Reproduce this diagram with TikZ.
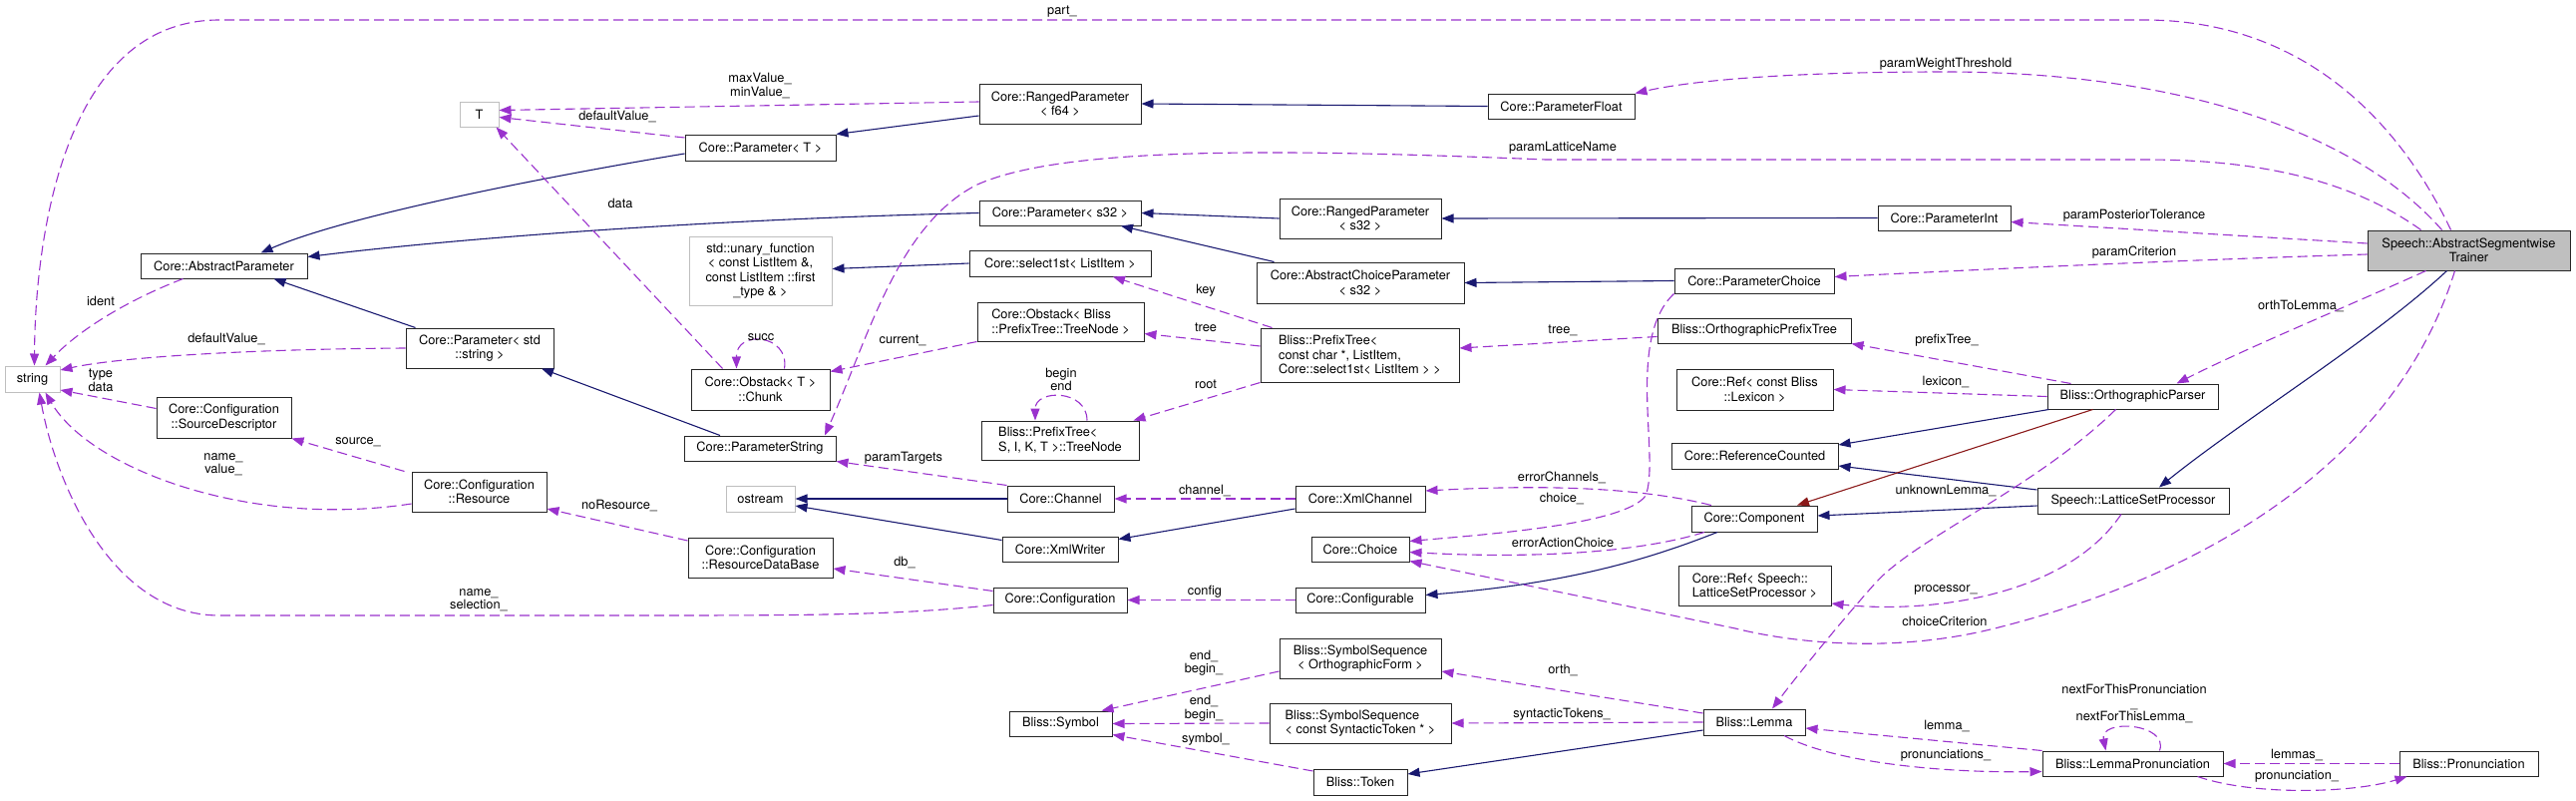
\documentclass[tikz,border=0pt]{standalone}
\usepackage{fontspec}
\setmainfont{TeX Gyre Heros}
\usetikzlibrary{arrows.meta}
\definecolor{edgeblue}{HTML}{191970}
\definecolor{edgepurple}{HTML}{9A32CD}
\definecolor{edgered}{HTML}{8B1A1A}
\definecolor{boxgray}{HTML}{BFBFBF}
\tikzset{
  cls/.style={draw=black!85, line width=1pt, fill=white, inner sep=0pt, align=center, font=\fontsize{12.8}{14.5}\selectfont},
  undoc/.style={cls, draw=boxgray},
  inh/.style={draw=edgeblue, line width=1.1pt, -{Triangle[length=12pt,width=9pt]}},
  inhprot/.style={inh, draw=edgered},
  usage/.style={draw=edgepurple, line width=1.1pt, dash pattern=on 10pt off 5pt, -{Triangle[length=12pt,width=9pt]}},
  lbl/.style={inner sep=0pt, align=center, font=\fontsize{12.8}{13.5}\selectfont},
}

\begin{document}
\begin{tikzpicture}[x=1pt,y=-1pt]
\useasboundingbox (0,0) rectangle (2583,803);

% classes
\node[cls, fill=boxgray, minimum width=203pt, minimum height=40pt] (trainer) at (2475.5,251) {Speech::AbstractSegmentwise\\Trainer};
\node[undoc, minimum width=55pt, minimum height=26pt] (string) at (32.5,380) {string};
\node[undoc, minimum width=39pt, minimum height=25pt] (tmpl) at (480.5,114.5) {T};
\node[cls, minimum width=167pt, minimum height=25pt] (absparam) at (224.5,266.5) {Core::AbstractParameter};
\node[cls, minimum width=148pt, minimum height=40pt] (paramstd) at (481,349) {Core::Parameter< std\\::string >};
\node[cls, minimum width=135pt, minimum height=41pt] (srcdesc) at (224.5,418.5) {Core::Configuration\\::SourceDescriptor};
\node[cls, minimum width=135pt, minimum height=40pt] (resource) at (480.5,493) {Core::Configuration\\::Resource};
\node[cls, minimum width=162pt, minimum height=40pt] (rangedf64) at (1063,104) {Core::RangedParameter\\< f64 >};
\node[cls, minimum width=151pt, minimum height=26pt] (paramT) at (762.5,148) {Core::Parameter< T >};
\node[cls, minimum width=162pt, minimum height=25pt] (params32) at (1063,213.5) {Core::Parameter< s32 >};
\node[undoc, minimum width=143pt, minimum height=69pt] (unary) at (762.5,271.5) {std::unary\_function\\< const ListItem \&,\\const ListItem ::first\\\_type \& >};
\node[cls, minimum width=182pt, minimum height=26pt] (select1st) at (1063,264) {Core::select1st< ListItem >};
\node[cls, align=left, minimum width=167pt, minimum height=39pt] (obstacktree) at (1063.5,322.5) {Core::Obstack< Bliss\\::PrefixTree::TreeNode >};
\node[cls, minimum width=139pt, minimum height=41pt] (chunk) at (762.5,390.5) {Core::Obstack< T >\\::Chunk};
\node[cls, minimum width=208pt, minimum height=41pt] (abschoice) at (1364,283.5) {Core::AbstractChoiceParameter\\< s32 >};
\node[cls, minimum width=162pt, minimum height=40pt] (rangeds32) at (1364,219) {Core::RangedParameter\\< s32 >};
\node[cls, align=left, minimum width=199pt, minimum height=54pt] (prefixtree) at (1363.5,356) {Bliss::PrefixTree<\\const char *, ListItem,\\Core::select1st< ListItem > >};
\node[cls, align=left, minimum width=158pt, minimum height=39pt] (treenode) at (1063,441.5) {Bliss::PrefixTree<\\S, I, K, T >::TreeNode};
\node[cls, minimum width=147pt, minimum height=25pt] (paramfloat) at (1565.5,106.5) {Core::ParameterFloat};
\node[cls, minimum width=133pt, minimum height=25pt] (paramint) at (1949.5,218.5) {Core::ParameterInt};
\node[cls, minimum width=160pt, minimum height=25pt] (paramchoice) at (1759,281.5) {Core::ParameterChoice};
\node[cls, minimum width=194pt, minimum height=25pt] (orthtree) at (1759,331.5) {Bliss::OrthographicPrefixTree};
\node[cls, minimum width=157pt, minimum height=41pt] (reflex) at (1759.5,390.5) {Core::Ref< const Bliss\\::Lexicon >};
\node[cls, minimum width=171pt, minimum height=25pt] (orthparser) at (2138.5,397.5) {Bliss::OrthographicParser};
\node[cls, minimum width=152pt, minimum height=25pt] (paramstring) at (762,449.5) {Core::ParameterString};
\node[undoc, minimum width=69pt, minimum height=26pt] (ostream) at (762.5,500) {ostream};
\node[cls, minimum width=145pt, minimum height=40pt] (resdb) at (762.5,559) {Core::Configuration\\::ResourceDataBase};
\node[cls, minimum width=107pt, minimum height=26pt] (channel) at (1063.5,500) {Core::Channel};
\node[cls, minimum width=116pt, minimum height=25pt] (xmlwriter) at (1063,550.5) {Core::XmlWriter};
\node[cls, minimum width=134pt, minimum height=25pt] (configuration) at (1063,601.5) {Core::Configuration};
\node[cls, minimum width=103pt, minimum height=25pt] (symbol) at (1063.5,725.5) {Bliss::Symbol};
\node[cls, minimum width=130pt, minimum height=26pt] (xmlchannel) at (1364,500) {Core::XmlChannel};
\node[cls, minimum width=98pt, minimum height=25pt] (choice) at (1364,550.5) {Core::Choice};
\node[cls, minimum width=130pt, minimum height=25pt] (configurable) at (1364,601.5) {Core::Configurable};
\node[cls, minimum width=162pt, minimum height=40pt] (symseqorth) at (1364,660) {Bliss::SymbolSequence\\< OrthographicForm >};
\node[cls, align=left, minimum width=182pt, minimum height=40pt] (symseqsyn) at (1364,725) {Bliss::SymbolSequence\\< const SyntacticToken * >};
\node[cls, minimum width=94pt, minimum height=26pt] (token) at (1364,784) {Bliss::Token};
\node[cls, minimum width=102pt, minimum height=26pt] (lemma) at (1759,724) {Bliss::Lemma};
\node[cls, minimum width=167pt, minimum height=26pt] (refcount) at (1759.5,457) {Core::ReferenceCounted};
\node[cls, minimum width=126pt, minimum height=26pt] (component) at (1759,520) {Core::Component};
\node[cls, align=left, minimum width=153pt, minimum height=40pt] (reflsp) at (1759.5,587) {Core::Ref< Speech::\\LatticeSetProcessor >};
\node[cls, minimum width=192pt, minimum height=26pt] (lsp) at (2139,502) {Speech::LatticeSetProcessor};
\node[cls, minimum width=181pt, minimum height=25pt] (lemmapron) at (2138.5,765.5) {Bliss::LemmaPronunciation};
\node[cls, minimum width=139pt, minimum height=25pt] (pron) at (2475.5,765.5) {Bliss::Pronunciation};

% inheritance
\draw[inh] ([yshift=-6pt]paramT.west) .. controls (560,175) and (350,215) .. ([xshift=37pt]absparam.north);
\draw[inh] (params32.west) .. controls (700,220) and (450,240) .. ([yshift=9pt]absparam.east);
\draw[inh] ([xshift=10pt]paramstd.north west) -- ([xshift=50pt]absparam.south);
\draw[inh] ([yshift=-12pt]rangedf64.west) -- (paramT.north east);
\draw[inh] (paramfloat.west) -- (rangedf64.east);
\draw[inh] (rangeds32.west) -- (params32.east);
\draw[inh] ([xshift=18pt]abschoice.north west) -- ([xshift=61pt]params32.south);
\draw[inh] (paramint.west) -- (rangeds32.east);
\draw[inh] (paramchoice.west) -- (abschoice.east);
\draw[inh] (select1st.west) -- ([yshift=2pt]unary.east);
\draw[inh] ([xshift=-40pt]paramstring.north) -- ([xshift=62pt]paramstd.south);
\draw[inh] (channel.west) -- (ostream.east);
\draw[inh] ([yshift=9pt]xmlwriter.west) -- ([yshift=-7pt]ostream.east);
\draw[inh] ([yshift=-10pt]xmlchannel.west) -- ([yshift=10pt]xmlwriter.east);
\draw[inh] ([xshift=2pt]orthparser.south west) -- ([yshift=11pt]refcount.east);
\draw[inh] ([yshift=11pt]lsp.west) -- ([yshift=-10pt]refcount.east);
\draw[inh] ([yshift=-5pt]lsp.west) -- ([yshift=3pt]component.east);
\draw[inhprot] ([xshift=-40pt]orthparser.south) -- ([xshift=43pt]component.north);
\draw[inh] ([xshift=-37pt]component.south) .. controls (1650,562) and (1570,585) .. ([yshift=5pt]configurable.east);
\draw[inh] ([xshift=-22pt]trainer.south) .. controls (2380,340) and (2250,420) .. ([xshift=26pt]lsp.north);
\draw[inh] ([yshift=-8pt]lemma.west) -- ([yshift=8pt]token.east);

% members
\draw[usage] ([xshift=-18pt]trainer.north) .. controls (2400,110) and (2300,20) .. (2150,20) -- (220,20) .. controls (60,20) and (35,250) .. ([xshift=2pt]string.north);
\draw[usage] ([xshift=-41pt]absparam.south) .. controls (130,300) and (80,330) .. ([xshift=13pt]string.north);
\draw[usage] (paramstd.west) .. controls (250,350) and (120,358) .. ([yshift=9pt]string.east);
\draw[usage] ([yshift=9pt]srcdesc.west) -- ([yshift=-11pt]string.east);
\draw[usage] ([yshift=-12pt]resource.west) .. controls (250,530) and (90,470) .. ([xshift=13pt]string.south);
\draw[usage] ([yshift=-5pt]configuration.west) .. controls (900,617) and (800,617) .. (640,617) -- (220,617) .. controls (110,617) and (55,480) .. ([xshift=7pt]string.south);
\draw[usage] ([yshift=2pt]rangedf64.west) -- ([yshift=4pt]tmpl.east);
\draw[usage] ([yshift=10pt]paramT.west) -- ([yshift=-3pt]tmpl.east);
\draw[usage] ([xshift=-38pt]chunk.north) -- ([xshift=17pt]tmpl.south);
\draw[usage] ([xshift=24pt]chunk.north) .. controls (792,335) and (738,330) .. ([xshift=-24pt]chunk.north);
\draw[usage] (obstacktree.south west) -- ([yshift=-3pt]chunk.north east);
\draw[usage] ([xshift=-88pt]prefixtree.north) -- ([xshift=53pt]select1st.south);
\draw[usage] ([yshift=9pt]prefixtree.west) -- ([yshift=-12pt]obstacktree.east);
\draw[usage] (prefixtree.south west) -- ([xshift=-6pt]treenode.north east);
\draw[usage] ([xshift=27pt]treenode.north) .. controls (1090,390) and (1038,390) .. ([xshift=-25pt]treenode.north);
\draw[usage] ([yshift=-6pt]orthtree.west) -- ([yshift=7pt]prefixtree.east);
\draw[usage] ([xshift=-62pt]orthparser.north) -- (orthtree.south east);
\draw[usage] (orthparser.west) -- (reflex.east);
\draw[usage] ([xshift=-27pt]trainer.north) .. controls (2360,130) and (2180,72) .. (1950,72) .. controls (1800,72) and (1700,80) .. (paramfloat.north east);
\draw[usage] ([xshift=-48pt]trainer.north) .. controls (2350,175) and (2250,160) .. (2150,160) -- (1550,160) .. controls (1300,150) and (1070,145) .. (980,185) .. controls (900,225) and (870,340) .. ([xshift=65pt]paramstring.north);
\draw[usage] (channel.north west) -- (paramstring.south east);
\draw[usage] ([yshift=7pt]trainer.west) -- ([yshift=-4pt]paramint.east);
\draw[usage] ([yshift=-4pt]trainer.west) .. controls (2150,262) and (1950,272) .. ([yshift=4pt]paramchoice.east);
\draw[usage] ([xshift=-43pt]trainer.south) .. controls (2370,300) and (2250,350) .. ([xshift=44pt]orthparser.north);
\draw[usage] (xmlchannel.west) -- (channel.east);
\draw[usage] ([yshift=9pt]configuration.west) -- ([yshift=-11pt]resdb.east);
\draw[usage] ([yshift=17pt]resdb.west) -- ([yshift=-17pt]resource.east);
\draw[usage] ([xshift=-7pt]resource.north west) -- (srcdesc.south east);
\draw[usage] (configurable.west) -- (configuration.east);
\draw[usage] ([xshift=-43pt]component.north) .. controls (1650,490) and (1560,485) .. ([yshift=8pt]xmlchannel.east);
\draw[usage] (paramchoice.south west) .. controls (1630,340) and (1665,460) .. (1650,497) .. controls (1630,525) and (1500,535) .. ([yshift=8pt]choice.east);
\draw[usage] ([xshift=-50pt]component.south) .. controls (1640,555) and (1530,560) .. ([yshift=-3pt]choice.east);
\draw[usage] ([xshift=-14pt]trainer.south) .. controls (2400,470) and (2200,580) .. (2000,630) .. controls (1900,655) and (1800,645) .. (1740,630) -- ([yshift=-12pt]choice.east);
\draw[usage] ([xshift=-12pt]lsp.south) .. controls (2070,600) and (1930,615) .. ([yshift=-18pt]reflsp.east);
\draw[usage] ([xshift=-17pt]orthparser.south) .. controls (2040,490) and (1920,540) .. (1880,585) .. controls (1840,630) and (1800,680) .. ([xshift=18pt]lemma.north);
\draw[usage] ([yshift=9pt]lemma.west) -- ([yshift=-13pt]symseqorth.east);
\draw[usage] (lemma.west) -- (symseqsyn.east);
\draw[usage] ([yshift=-13pt]symseqorth.west) -- ([xshift=41pt]symbol.north);
\draw[usage] (symseqsyn.west) -- (symbol.east);
\draw[usage] ([yshift=11pt]token.west) -- ([yshift=-11pt]symbol.east);
\draw[usage] (lemmapron.north west) -- ([yshift=-6pt]lemma.east);
\draw[usage] ([xshift=30pt]lemma.south) .. controls (1840,765) and (1950,775) .. ([yshift=-8pt]lemmapron.west);
\draw[usage] ([xshift=27pt]lemmapron.north) .. controls (2175,725) and (2105,720) .. ([xshift=-27pt]lemmapron.north);
\draw[usage] (pron.west) -- (lemmapron.east);
\draw[usage] ([xshift=65pt]lemmapron.south) .. controls (2260,798) and (2360,795) .. ([xshift=-62pt]pron.south);

% member names
\node[lbl] (lbPart) at (1065,12) {part\_};
\node[lbl] (lbWeight) at (1951,64) {paramWeightThreshold};
\node[lbl] (lbMinMax) at (762,86) {maxValue\_\\minValue\_};
\node[lbl] (lbDefT) at (619,117) {defaultValue\_};
\node[lbl] (lbLattice) at (1567,148) {paramLatticeName};
\node[lbl] (lbData) at (622,204) {data};
\node[lbl] (lbTolerance) at (2140,216) {paramPosteriorTolerance};
\node[lbl] (lbCriterion) at (2140,253) {paramCriterion};
\node[lbl] (lbKey) at (1209,291) {key};
\node[lbl] (lbIdent) at (101,302) {ident};
\node[lbl] (lbOrthToLemma) at (2307,307) {orthToLemma\_};
\node[lbl] (lbTree) at (1209,328) {tree};
\node[lbl] (lbTreeU) at (1567,331) {tree\_};
\node[lbl] (lbSucc) at (763,338) {succ};
\node[lbl] (lbDefStr) at (227,340) {defaultValue\_};
\node[lbl] (lbCurrent) at (905,341) {current\_};
\node[lbl] (lbPrefix) at (1952,341) {prefixTree\_};
\node[lbl] (lbBeginEnd) at (1064,380.5) {begin\\end};
\node[lbl] (lbTypeData) at (101,381.5) {type\\data};
\node[lbl] (lbRoot) at (1209,385) {root};
\node[lbl] (lbLexicon) at (1951,383) {lexicon\_};
\node[lbl] (lbSource) at (359,443) {source\_};
\node[lbl] (lbTargets) at (906,459) {paramTargets};
\node[lbl] (lbNameValue) at (224,465.5) {name\_\\value\_};
\node[lbl] (lbErrChannels) at (1566,479) {errorChannels\_};
\node[lbl] (lbUnknown) at (1951,492) {unknownLemma\_};
\node[lbl] (lbChannel) at (1208,492) {channel\_};
\node[lbl] (lbChoice) at (1566,500) {choice\_};
\node[lbl] (lbNoRes) at (621,507) {noResource\_};
\node[lbl] (lbErrAction) at (1567,544) {errorActionChoice};
\node[lbl] (lbDb) at (907,564) {db\_};
\node[lbl] (lbProcessor) at (1951,591) {processor\_};
\node[lbl] (lbConfig) at (1208,593) {config};
\node[lbl] (lbNameSel) at (480,601.5) {name\_\\selection\_};
\node[lbl] (lbChoiceCrit) at (1950,623) {choiceCriterion};
\node[lbl] (lbEndBeginA) at (1207,664.5) {end\_\\begin\_};
\node[lbl] (lbOrth) at (1567,672) {orth\_};
\node[lbl] (lbNext) at (2140,705.5) {nextForThisPronunciation\\\_\\nextForThisLemma\_};
\node[lbl] (lbEndBeginB) at (1207,710) {end\_\\begin\_};
\node[lbl] (lbSynt) at (1566,716) {syntacticTokens\_};
\node[lbl] (lbLemma) at (1952,728) {lemma\_};
\node[lbl] (lbSymbol) at (1209,741) {symbol\_};
\node[lbl] (lbLemmas) at (2303,757) {lemmas\_};
\node[lbl] (lbProns) at (1951,757) {pronunciations\_};
\node[lbl] (lbPron) at (2303,778) {pronunciation\_};

\end{tikzpicture}
\end{document}
